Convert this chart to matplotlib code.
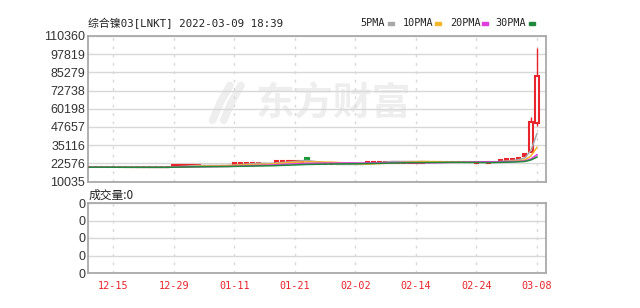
import matplotlib
matplotlib.use("Agg")
import matplotlib.pyplot as plt
import numpy as np
import pandas as pd

# ---- data ----
title = "综合镍03[LNKT] 2022-03-09 18:39"
date_ticks = ["12-15", "12-29", "01-11", "01-21", "02-02", "02-14", "02-24", "03-08"]
price_ticks = [10035, 22576, 35116, 47657, 60198, 72738, 85279, 97819, 110360]
ma_names = ["5PMA", "10PMA", "20PMA", "30PMA"]
ma_windows = [5, 10, 20, 30]
ma_colors = ["#a8a8a8", "#f5b62a", "#e03ce0", "#1f8a3c"]

opens = ([19900] * 4 + [19800] * 10
         + [20400, 20500, 20400, 20400, 20500]
         + [21000] * 5
         + [21900, 22000, 21900, 21900, 22000]
         + [22300] * 2
         + [23500, 23600, 23500, 23700, 23600]
         + [26100]
         + [21800] * 9
         + [23000] * 10
         + [23400] * 8 + [23000, 23400, 23000, 23400]
         + [24200, 24500, 24600, 25700, 27900, 30582, 50164])
closes = ([19900] * 4 + [19800] * 10
          + [21100, 21200, 21100, 21100, 21200]
          + [21000] * 5
          + [22600, 22700, 22600, 22600, 22700]
          + [22300] * 2
          + [24200, 24300, 24200, 24400, 24300]
          + [25300]
          + [21800] * 9
          + [23800] * 10
          + [23400] * 8 + [23700, 23400, 23700, 23400]
          + [25000, 25300, 25400, 26500, 28700, 51268, 82779])
highs = ([19900] * 4 + [19800] * 10
         + [21100, 21200, 21100, 21100, 21200]
         + [21000] * 5
         + [22600, 22700, 22600, 22600, 22700]
         + [22300] * 2
         + [24200, 24300, 24200, 24400, 24300]
         + [26100]
         + [21800] * 9
         + [23800] * 10
         + [23400] * 8 + [23700, 23400, 23700, 23400]
         + [25000, 25300, 25400, 27100, 29800, 54713, 102087])
lows = ([19900] * 4 + [19800] * 10
        + [20400, 20500, 20400, 20400, 20500]
        + [21000] * 5
        + [21900, 22000, 21900, 21900, 22000]
        + [22300] * 2
        + [23500, 23600, 23500, 23700, 23600]
        + [25300]
        + [21800] * 9
        + [23000] * 10
        + [23400] * 8 + [23000, 23400, 23000, 23400]
        + [24200, 24500, 24600, 25700, 27600, 30300, 48302])

RED = "#e8242c"
GREEN = "#1a9a3a"
GRID = "#d8d8d8"
FRAME = "#a9a9a9"

df = pd.DataFrame({"open": opens, "high": highs, "low": lows, "close": closes})
x = np.arange(len(df))

fig = plt.figure(figsize=(6.4, 3.08), dpi=100)
ax = fig.add_axes([88 / 640, 1 - 181.5 / 308, 458 / 640, 145.5 / 308])
axv = fig.add_axes([88 / 640, 1 - 273 / 308, 458 / 640, 70 / 308])

xlim = (-0.2, 75.5)
tick_pos = list(range(4, len(df), 10))

# watermark
ax.text(0.535, 0.53, "东方财富", transform=ax.transAxes, ha="center", va="center",
        fontsize=28, fontweight="bold", color="#eeeeee",
        family=["Noto Sans CJK SC"], zorder=0)
for dx in (0, 0.024):
    ax.plot([0.31 + dx, 0.29 + dx, 0.272 + dx], [0.66, 0.55, 0.42],
            transform=ax.transAxes, color="#eeeeee", lw=5.5,
            solid_capstyle="round", zorder=0)

# candles: hollow red when up, filled green when down
up = df["close"] >= df["open"]
body_lo = np.minimum(df["open"], df["close"])
body_h = np.abs(df["close"] - df["open"])
ax.vlines(x, df["low"], df["high"], colors=np.where(up, RED, GREEN), lw=1, zorder=2)
ax.bar(x[up], body_h[up], bottom=body_lo[up], width=0.55,
       facecolor="white", edgecolor=RED, lw=1.5, zorder=3)
ax.bar(x[~up], body_h[~up], bottom=body_lo[~up], width=0.55,
       facecolor=GREEN, edgecolor=GREEN, lw=1.5, zorder=3)

# moving averages
for w, c in zip(ma_windows, ma_colors):
    ma = df["close"].rolling(w, min_periods=1).mean()
    ax.plot(x, ma, color=c, lw=1.1, zorder=4)

for a in (ax, axv):
    a.set_xlim(*xlim)
    a.set_xticks(tick_pos)
    a.tick_params(length=0)
    a.grid(axis="y", color=GRID, lw=1, ls="-")
    a.grid(axis="x", color=GRID, lw=1, ls=(0, (2, 4)))
    a.set_axisbelow(True)
    for s in a.spines.values():
        s.set_color(FRAME)
        s.set_linewidth(1.3)

ax.set_ylim(price_ticks[0], price_ticks[-1])
ax.set_yticks(price_ticks)
ax.set_yticklabels([str(v) for v in price_ticks], fontsize=9,
                   family="Liberation Sans", color="#333333")
ax.set_xticklabels([])

axv.set_ylim(0, 4)
axv.set_yticks(range(5))
axv.set_yticklabels(["0"] * 5, fontsize=9, family="Liberation Sans", color="#333333")
axv.set_xticklabels(date_ticks, fontsize=7.3, family="DejaVu Sans Mono", color=RED)
axv.tick_params(axis="x", pad=6)
axv.tick_params(axis="y", pad=2)
ax.tick_params(axis="y", pad=2)

# header texts
fig.text(88 / 640, 1 - 23 / 308, title, fontsize=7.8, va="center", ha="left",
         family=["DejaVu Sans Mono", "Noto Sans CJK SC"], color="#222222")
fig.text(89 / 640, 1 - 195 / 308, "成交量:0", fontsize=8.5, va="center", ha="left",
         family=["Noto Sans CJK SC", "DejaVu Sans"], color="#222222")

name_x = [360, 403, 450, 495]
dash_x = [388, 435, 482, 529]
for nm, nx, dxp, c in zip(ma_names, name_x, dash_x, ma_colors):
    fig.text(nx / 640, 1 - 23 / 308, nm, fontsize=7.3, va="center", ha="left",
             family="DejaVu Sans Mono", color="#222222")
    fig.patches.append(plt.Rectangle((dxp / 640, 1 - 24.5 / 308), 6 / 640, 3 / 308,
                                     transform=fig.transFigure, color=c, figure=fig))

fig.savefig("out.png", dpi=100)
